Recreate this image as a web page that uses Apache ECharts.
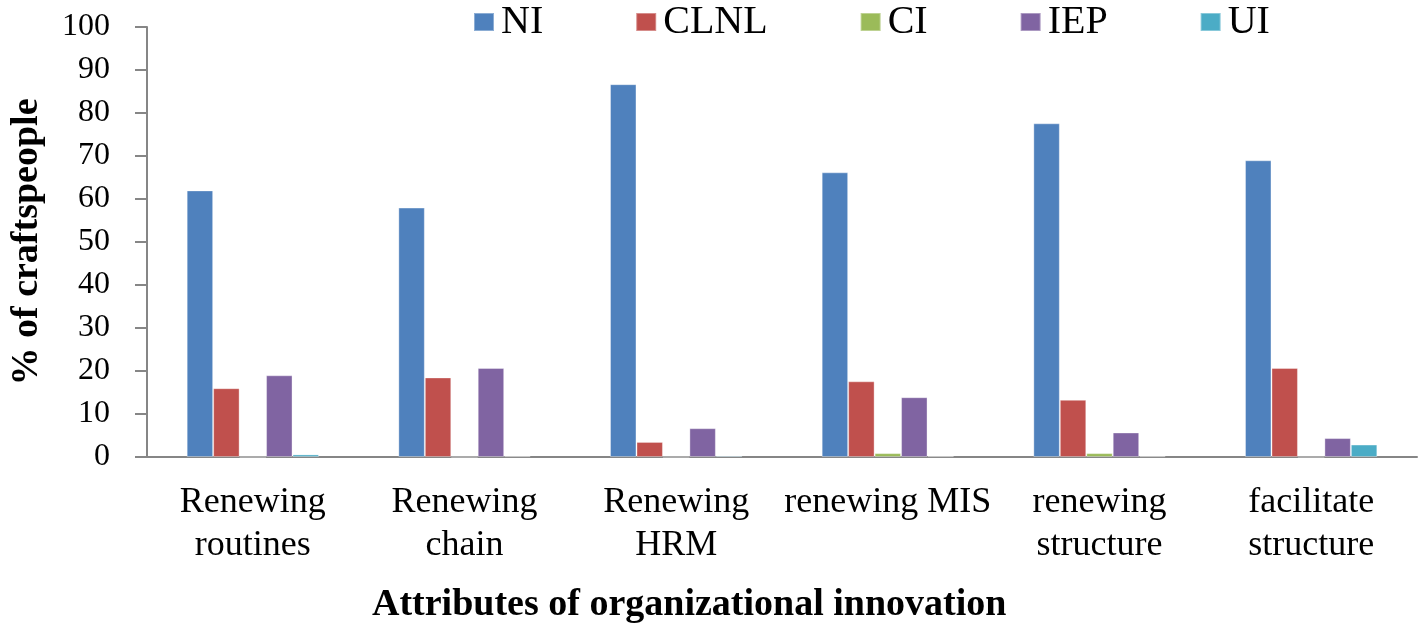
<!DOCTYPE html>
<html>
<head>
<meta charset="utf-8">
<script src="https://cdn.jsdelivr.net/npm/echarts@6/dist/echarts.min.js"></script>
<style>
html,body{margin:0;padding:0;background:#fff;}
#chart{width:1424px;height:627px;}
</style>
</head>
<body>
<div id="chart"></div>
<script>
const categories = ["Renewing\nroutines", "Renewing\nchain", "Renewing\nHRM", "renewing MIS", "renewing\nstructure", "facilitate\nstructure"];
const seriesNames = ["NI", "CLNL", "CI", "IEP", "UI"];
const NI   = [62, 58, 86.7, 66.2, 77.6, 69];
const CLNL = [16, 18.5, 3.5, 17.6, 13.3, 20.7];
const CI   = [0, 0, 0, 0.9, 0.9, 0];
const IEP  = [19, 20.7, 6.7, 13.9, 5.7, 4.4];
const UI   = [0.6, 0.2, 0.3, 0.2, 0.2, 2.9];
const yTicks = { min: 0, max: 100, interval: 10 };

const colors = ["#4F81BD", "#C0504D", "#9BBB59", "#8064A2", "#4BACC6"];
const values = [NI, CLNL, CI, IEP, UI];
const font = "'Liberation Serif', 'Times New Roman', serif";

const chart = echarts.init(document.getElementById('chart'));
chart.setOption({
  animation: false,
  color: colors,
  textStyle: { fontFamily: font },
  title: {
    text: "Attributes of organizational innovation",
    left: 367, top: 581, padding: 5,
    textStyle: { fontFamily: font, fontSize: 38, fontWeight: 'bold', color: '#000' }
  },
  legend: {
    data: seriesNames,
    left: 473, top: 2, padding: 0,
    itemWidth: 20, itemHeight: 18, itemGap: 92,
    icon: 'rect',
    textStyle: { fontFamily: font, fontSize: 40, color: '#000', padding: [0, 0, 0, 2] }
  },
  grid: { left: 145, right: 7, top: 27, bottom: 170, containLabel: false },
  xAxis: {
    type: 'category',
    data: categories,
    axisLine: { lineStyle: { color: '#868686', width: 2 } },
    axisTick: { show: false },
    axisLabel: { interval: 0, fontFamily: font, fontSize: 36, color: '#000', margin: 24, lineHeight: 43 }
  },
  yAxis: {
    type: 'value',
    min: yTicks.min, max: yTicks.max, interval: yTicks.interval,
    name: "% of craftspeople",
    nameLocation: 'middle',
    nameGap: 101,
    nameTextStyle: { fontFamily: font, fontSize: 38, fontWeight: 'bold', color: '#000' },
    axisLine: { show: true, lineStyle: { color: '#868686', width: 2 } },
    axisTick: { show: true, inside: false, length: 12, lineStyle: { color: '#868686', width: 2 } },
    splitLine: { show: false },
    axisLabel: { fontFamily: font, fontSize: 32, color: '#000', margin: 37 }
  },
  series: seriesNames.map((n, i) => ({
    name: n,
    type: 'bar',
    data: values[i],
    barGap: '0%',
    barCategoryGap: '37.5%',
    itemStyle: { color: colors[i], borderColor: 'rgba(255,255,255,0.35)', borderWidth: 1 }
  }))
});
</script>
</body>
</html>
